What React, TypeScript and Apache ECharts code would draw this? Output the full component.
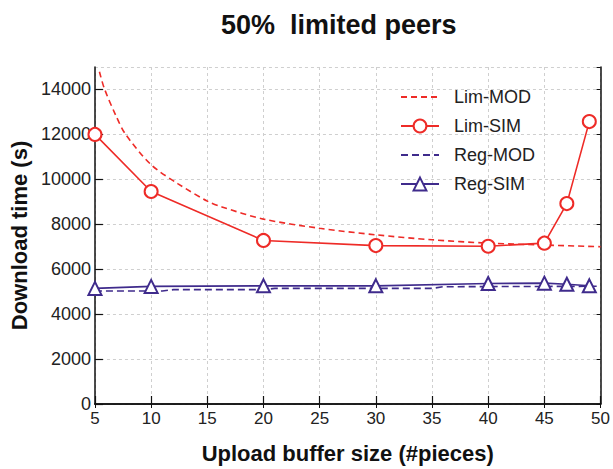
import { useEffect, useRef } from "react";
import * as echarts from "echarts";

const titleText = "50%  limited peers";
const xName = "Upload buffer size (#pieces)";
const yName = "Download time (s)";
const seriesNames = ["Lim-MOD", "Lim-SIM", "Reg-MOD", "Reg-SIM"];

const limModX = [5.4, 5.83, 6.85, 7.73, 10, 12.4, 15, 16.3, 20, 25, 30, 35, 40, 45, 50];
const limModY = [14790, 14050, 12850, 12000, 10650, 9800, 9030, 8770, 8230, 7820, 7530, 7310, 7160, 7075, 7000];

const simX = [5, 10, 20, 30, 40, 45, 47, 49];
const limSimY = [12000, 9460, 7280, 7050, 7020, 7160, 8920, 12570];
const regSimY = [5145, 5235, 5260, 5260, 5365, 5380, 5330, 5260];

const regModX = [5, 11, 12, 20, 21, 35, 36, 50];
const regModY = [5030, 5030, 5090, 5090, 5145, 5145, 5220, 5240];

const RED = "#ee2b27";
const PURPLE = "#3f2b8c";
const FONT = "'Liberation Sans', Arial, sans-serif";

const zip = (xs: number[], ys: number[]) => xs.map((x, i) => [x, ys[i]]);

export default function App() {
  const ref = useRef<HTMLDivElement>(null);
  useEffect(() => {
    if (!ref.current) return;
    const chart = echarts.init(ref.current, undefined, { renderer: "svg" });
    chart.setOption({
      animation: false,
      backgroundColor: "#ffffff",
      title: {
        text: titleText,
        left: 221,
        top: 11,
        padding: 0,
        textStyle: { fontFamily: FONT, fontSize: 27, fontWeight: "bold", color: "#111" },
      },
      legend: {
        orient: "vertical",
        left: 395,
        top: 83,
        itemWidth: 38,
        itemHeight: 16,
        itemGap: 11,
        data: [
          { name: seriesNames[0], itemStyle: { opacity: 0 } },
          { name: seriesNames[1] },
          { name: seriesNames[2], itemStyle: { opacity: 0 } },
          { name: seriesNames[3] },
        ],
        textStyle: { fontFamily: FONT, fontSize: 18, color: "#222", padding: [0, 0, 0, 10] },
      },
      grid: { left: 89, right: 9, top: 67, bottom: 59 },
      xAxis: [
        {
          type: "value",
          min: 5,
          max: 50,
          interval: 5,
          name: xName,
          nameLocation: "middle",
          nameGap: 38,
          nameTextStyle: { fontFamily: FONT, fontSize: 22, fontWeight: "bold", color: "#111" },
          axisLine: { show: true, lineStyle: { color: "#111", width: 1.5 } },
          axisTick: { show: true, inside: true, length: 8, lineStyle: { color: "#111", width: 1.2 } },
          axisLabel: { fontFamily: FONT, fontSize: 17, color: "#222", margin: 6, formatter: (v: number) => String(v) },
          splitLine: { show: true, lineStyle: { color: "#cfcfcf", type: [3, 3], width: 1 } },
        },
        {
          type: "value",
          position: "top",
          min: 5,
          max: 50,
          interval: 5,
          axisLine: { show: true, lineStyle: { color: "#111", width: 1.5 } },
          axisTick: { show: true, inside: true, length: 4, lineStyle: { color: "#111", width: 1 } },
          axisLabel: { show: false },
          splitLine: { show: false },
        },
      ],
      yAxis: [
        {
          type: "value",
          min: 0,
          max: 15000,
          interval: 2000,
          name: yName,
          nameLocation: "middle",
          nameGap: 56,
          nameTextStyle: { fontFamily: FONT, fontSize: 22, fontWeight: "bold", color: "#111" },
          axisLine: { show: true, lineStyle: { color: "#111", width: 1.5 } },
          axisTick: { show: true, inside: true, length: 8, lineStyle: { color: "#111", width: 1.2 } },
          axisLabel: {
            fontFamily: FONT,
            fontSize: 18,
            color: "#222",
            margin: 4,
            showMaxLabel: false,
            formatter: (v: number) => String(v),
          },
          splitLine: { show: true, lineStyle: { color: "#cfcfcf", type: [3, 3], width: 1 } },
        },
        {
          type: "value",
          position: "right",
          min: 0,
          max: 15000,
          interval: 2000,
          axisLine: { show: true, lineStyle: { color: "#111", width: 1.5 } },
          axisTick: { show: true, inside: true, length: 4, lineStyle: { color: "#111", width: 1 } },
          axisLabel: { show: false },
          splitLine: { show: false },
        },
      ],
      series: [
        {
          name: seriesNames[0],
          type: "line",
          data: zip(limModX, limModY),
          smooth: 0.3,
          showSymbol: false,
          symbol: "circle",
          symbolSize: 0,
          lineStyle: { color: RED, width: 1.6, type: [6, 4] },
          itemStyle: { color: RED },
          z: 3,
        },
        {
          name: seriesNames[1],
          type: "line",
          data: zip(simX, limSimY),
          symbol: "emptyCircle",
          symbolSize: 13,
          lineStyle: { color: RED, width: 1.6 },
          itemStyle: { color: RED, borderWidth: 1.5 },
          z: 4,
        },
        {
          name: seriesNames[2],
          type: "line",
          data: zip(regModX, regModY),
          showSymbol: false,
          symbol: "circle",
          symbolSize: 0,
          lineStyle: { color: PURPLE, width: 1.6, type: [7, 4] },
          itemStyle: { color: PURPLE },
          z: 3,
        },
        {
          name: seriesNames[3],
          type: "line",
          data: zip(simX, regSimY),
          symbol: "emptyTriangle",
          symbolSize: 13,
          lineStyle: { color: PURPLE, width: 1.6 },
          itemStyle: { color: PURPLE, borderWidth: 1.5 },
          z: 4,
        },
      ],
    });
    return () => chart.dispose();
  }, []);
  return (
    <div
      ref={ref}
      style={{ position: "fixed", left: 0, top: 0, width: 613, height: 469, background: "#fff" }}
    />
  );
}
